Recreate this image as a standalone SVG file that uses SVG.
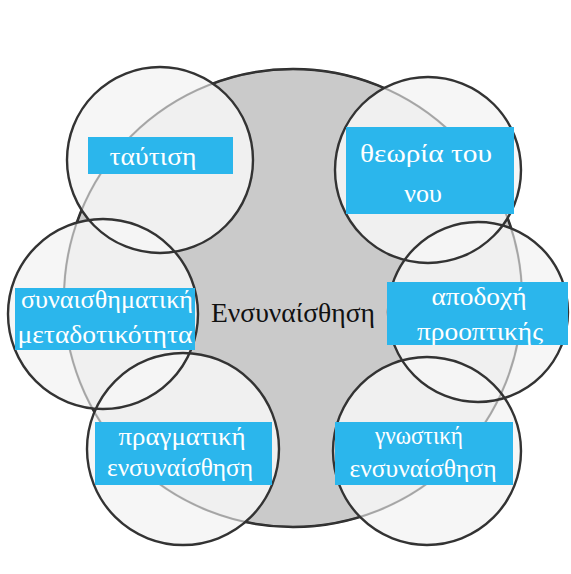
<svg xmlns="http://www.w3.org/2000/svg" width="571" height="574" viewBox="0 0 571 574">
<style>
.bg{fill:#ffffff}
.big{fill:#cacaca;stroke:#1e1e1e;stroke-width:2.5}
.ghost{fill:none;stroke:#555555;stroke-opacity:0.4;stroke-width:1.8}
.cf{fill:#f5f5f5;fill-opacity:0.88;stroke:none}
.cs{fill:none;stroke:#333333;stroke-width:2.4}
.box{fill:#2bb6ec}
.lbl{font-family:"Liberation Serif","DejaVu Serif",serif;font-size:26px;fill:#ffffff;text-anchor:middle}
.ctr{font-family:"Liberation Serif","DejaVu Serif",serif;font-size:28px;fill:#111111;text-anchor:middle}
</style>
<rect class="bg" x="0" y="0" width="571" height="574"/>
<g id="center">
<circle class="big" cx="293" cy="298" r="229"/>
<text class="ctr" x="293" y="322" textLength="164" lengthAdjust="spacingAndGlyphs">Ενσυναίσθηση</text>
</g>
<g id="connectors"></g>
<g id="fills">
<circle class="cf" cx="160" cy="160" r="93"/>
<circle class="cf" cx="428" cy="170" r="93"/>
<circle class="cf" cx="103" cy="314" r="95"/>
<circle class="cf" cx="478" cy="312" r="90"/>
<circle class="cf" cx="183" cy="449" r="96"/>
<circle class="cf" cx="427" cy="451" r="94"/>
<circle class="ghost" cx="293" cy="298" r="229"/>
</g>
<g id="n1">
<circle class="cs" cx="160" cy="160" r="93"/>
<rect class="box" x="88" y="137" width="145" height="37"/>
<text class="lbl" x="153" y="165" textLength="87" lengthAdjust="spacingAndGlyphs">ταύτιση</text>
</g>
<g id="n2">
<circle class="cs" cx="428" cy="170" r="93"/>
<rect class="box" x="346" y="127" width="168" height="87"/>
<text class="lbl" x="426" y="162" font-size="28" textLength="132" lengthAdjust="spacingAndGlyphs">θεωρία του</text>
<text class="lbl" x="423" y="202" font-size="28">νου</text>
</g>
<g id="n3">
<circle class="cs" cx="103" cy="314" r="95"/>
<rect class="box" x="15" y="288" width="180" height="62"/>
<text class="lbl" x="107" y="308" textLength="172" lengthAdjust="spacingAndGlyphs">συναισθηματική</text>
<text class="lbl" x="105" y="343" textLength="175" lengthAdjust="spacingAndGlyphs">μεταδοτικότητα</text>
</g>
<g id="n4">
<circle class="cs" cx="478" cy="312" r="90"/>
<rect class="box" x="387" y="282" width="181" height="63"/>
<text class="lbl" x="479" y="305" textLength="95" lengthAdjust="spacingAndGlyphs">αποδοχή</text>
<text class="lbl" x="480" y="340" textLength="126" lengthAdjust="spacingAndGlyphs">προοπτικής</text>
</g>
<g id="n5">
<circle class="cs" cx="183" cy="449" r="96"/>
<rect class="box" x="95" y="422" width="177" height="63"/>
<text class="lbl" x="182" y="445" textLength="127" lengthAdjust="spacingAndGlyphs">πραγματική</text>
<text class="lbl" x="180" y="476" textLength="146" lengthAdjust="spacingAndGlyphs">ενσυναίσθηση</text>
</g>
<g id="n6">
<circle class="cs" cx="427" cy="451" r="94"/>
<rect class="box" x="335" y="422" width="178" height="63"/>
<text class="lbl" x="419" y="444" textLength="88" lengthAdjust="spacingAndGlyphs">γνωστική</text>
<text class="lbl" x="423" y="477" textLength="147" lengthAdjust="spacingAndGlyphs">ενσυναίσθηση</text>
</g>
</svg>
